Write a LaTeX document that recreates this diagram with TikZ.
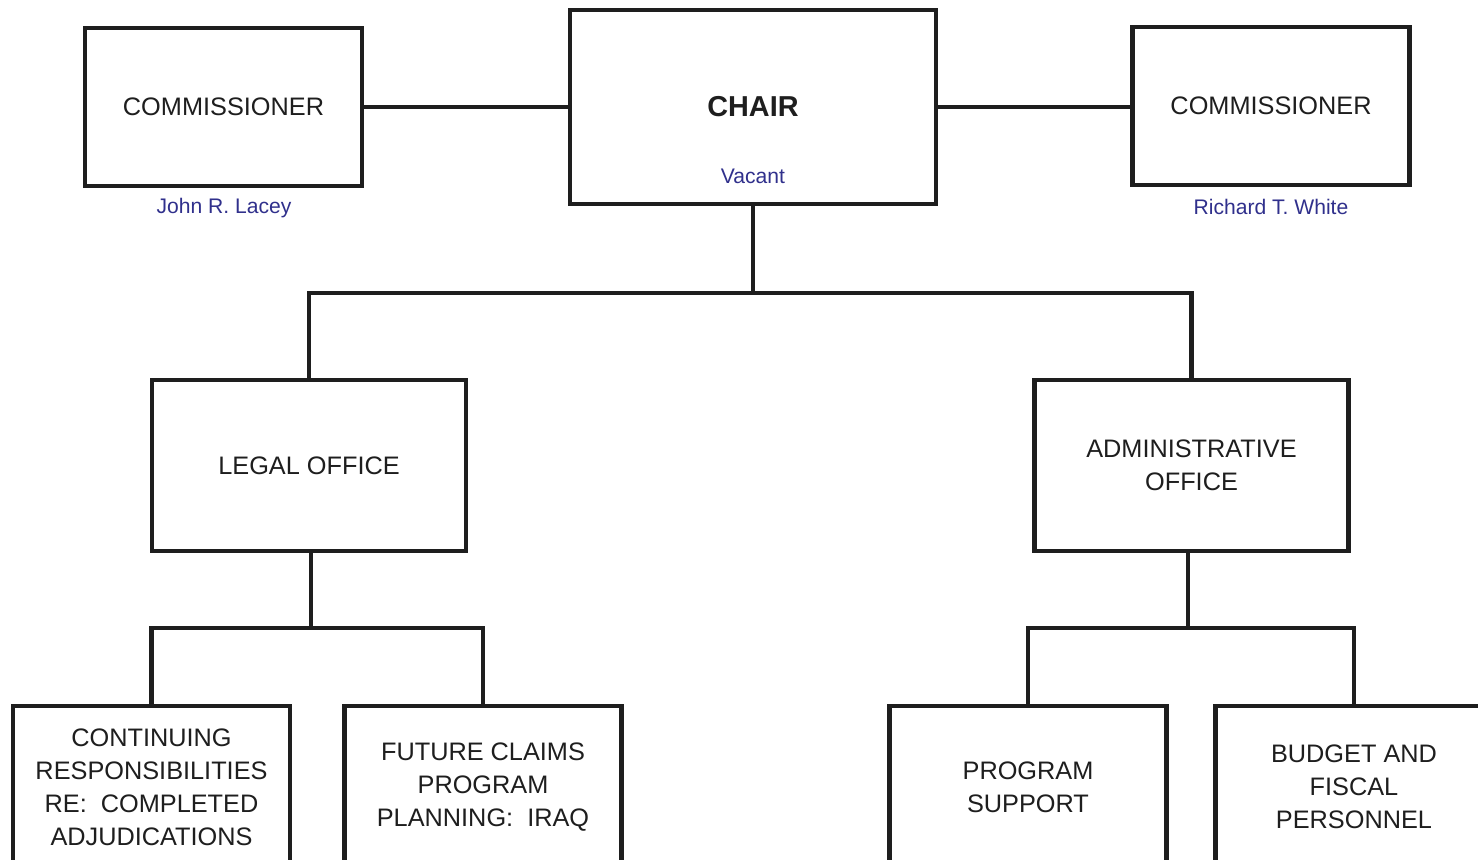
\documentclass[tikz,border=0pt]{standalone}
\usepackage{fontspec}
\setmainfont{Liberation Sans}
\usepackage{tikz}
\usetikzlibrary{calc}

\definecolor{namecol}{RGB}{48,48,140}
\definecolor{inkcol}{RGB}{30,30,30}

\tikzset{
	unit/.style={draw=inkcol, line width=1.2pt, fill=white, inner sep=0pt,
		align=center, text=inkcol, font=\fontsize{7.2}{9.4}\selectfont},
	topunit/.style={unit, minimum width=2.77cm, minimum height=1.58cm},
	midunit/.style={unit, minimum width=3.14cm, minimum height=1.71cm},
	lowunit/.style={unit, minimum width=2.77cm, minimum height=1.62cm},
	person/.style={inner sep=0pt, text=namecol, font=\fontsize{6}{7}\selectfont},
	link/.style={draw=inkcol, line width=1.2pt}
}

\begin{document}
\begin{tikzpicture}
	
	% ---- (A) frame ----
	\useasboundingbox (0,0) rectangle (14.78,8.59);
	
	\begin{scope}
		\clip (0,0) rectangle (14.78,8.59);
		
		% ---- (B) top row ----
		\node[topunit] (comL) at (2.235,7.52) {COMMISSIONER};
		\node[unit, minimum width=3.66cm, minimum height=1.94cm,
			font=\fontsize{8.2}{10}\selectfont\bfseries] (chair) at (7.53,7.52) {CHAIR};
		\node[topunit] (comR) at (12.71,7.53) {COMMISSIONER};
		
		% names under / inside the boxes
		\node[person] (lacey) at (2.24,6.51) {John R. Lacey};
		\node[person] (vacant) at (7.53,6.83) {Vacant};
		\node[person] (white) at (12.71,6.52) {Richard T. White};
		
		% ---- (C) offices ----
		\node[midunit] (legal) at (3.09,3.935) {LEGAL OFFICE};
		\node[midunit] (admin) at (11.915,3.935) {ADMINISTRATIVE\\OFFICE};
		
		% ---- (D) bottom row (runs off the page) ----
		\node[lowunit] (contin) at (1.515,0.72) {CONTINUING\\RESPONSIBILITIES\\RE:\ \ COMPLETED\\ADJUDICATIONS};
		\node[lowunit] (future) at (4.83,0.72) {FUTURE CLAIMS\\PROGRAM\\PLANNING:\ \ IRAQ};
		\node[lowunit] (progsup) at (10.28,0.72) {PROGRAM\\SUPPORT};
		\node[lowunit] (budget) at (13.54,0.72) {BUDGET AND\\FISCAL\\PERSONNEL};
		
		% ---- (E) connectors ----
		\coordinate (busA) at (7.53,5.66);
		\coordinate (busL) at (3.11,2.31);
		\coordinate (busR) at (11.88,2.31);
		
		\draw[link] (comL.east) -- (chair.west);
		\draw[link] (chair.east) -- (chair.east -| comR.west);
		
		\draw[link] (chair.south) -- (busA);
		\draw[link] (legal.north) -- (legal.north |- busA) -- (admin.north |- busA) -- (admin.north);
		
		\draw[link] (legal.south -| busL) -- (busL);
		\draw[link] (contin.north) -- (contin.north |- busL) -- (future.north |- busL) -- (future.north);
		
		\draw[link] (admin.south -| busR) -- (busR);
		\draw[link] (progsup.north) -- (progsup.north |- busR) -- (budget.north |- busR) -- (budget.north);
		
	\end{scope}
\end{tikzpicture}
\end{document}
